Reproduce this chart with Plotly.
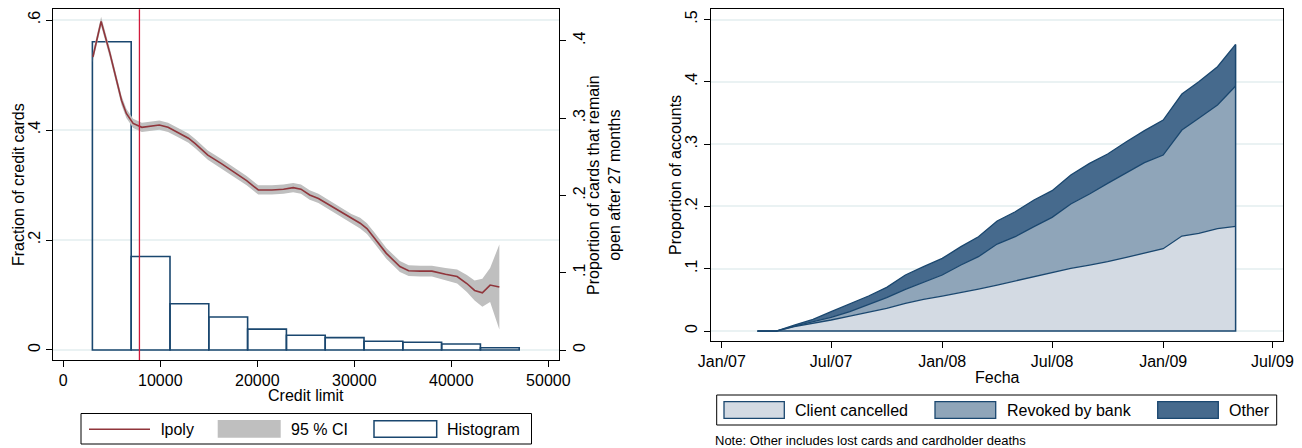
import plotly.graph_objects as go

W, H = 1302, 448

# ---------------- Left panel data ----------------
hist_left_edges = [3000, 7000, 11000, 15000, 19000, 23000, 27000, 31000, 35000, 39000, 43000]
hist_bin_width = 4000
hist_fraction = [0.5606, 0.170, 0.084, 0.060, 0.038, 0.0267, 0.0224, 0.0158, 0.014, 0.011, 0.004]

lpoly_x = [3050, 3900, 4800, 5500, 6000, 6500, 7200, 8100, 8900, 9900,
           10800, 11900, 12900, 13600, 14900, 16300, 17700, 18900, 20100, 21500,
           22700, 23700, 24500, 25400, 26300, 28000, 29700, 30600, 31300, 32100,
           33300, 34700, 35600, 36800, 38000, 39400, 40600, 41600, 42400, 43200,
           44000, 44950]
lpoly_y = [0.379, 0.425, 0.384, 0.349, 0.323, 0.306, 0.293, 0.288, 0.289, 0.291,
           0.288, 0.281, 0.274, 0.267, 0.252, 0.241, 0.229, 0.219, 0.207, 0.207,
           0.208, 0.210, 0.208, 0.2005, 0.196, 0.183, 0.170, 0.164, 0.157, 0.1445,
           0.125, 0.108, 0.1026, 0.102, 0.102, 0.098, 0.095, 0.086, 0.077, 0.074,
           0.084, 0.0815]
ci_half = [0.006, 0.006, 0.006, 0.006, 0.006, 0.006, 0.006, 0.006, 0.006, 0.006,
           0.006, 0.006, 0.006, 0.006, 0.006, 0.006, 0.006, 0.006, 0.006, 0.006,
           0.006, 0.006, 0.006, 0.006, 0.006, 0.006, 0.006, 0.007, 0.007, 0.007,
           0.007, 0.007, 0.007, 0.007, 0.007, 0.008, 0.009, 0.011, 0.013, 0.018,
           0.022, 0.055]
threshold_limit = 7850

left_x_ticks = [0, 10000, 20000, 30000, 40000, 50000]
left_y_ticks = [0, 0.2, 0.4, 0.6]
left_y_labels = ["0", ".2", ".4", ".6"]
right_y_ticks = [0, 0.1, 0.2, 0.3, 0.4]
right_y_labels = ["0", ".1", ".2", ".3", ".4"]

# ---------------- Right panel data ----------------
months = ["2007-03-01", "2007-04-01", "2007-05-01", "2007-06-01", "2007-07-01", "2007-08-01",
          "2007-09-01", "2007-10-01", "2007-11-01", "2007-12-01", "2008-01-01", "2008-02-01",
          "2008-03-01", "2008-04-01", "2008-05-01", "2008-06-01", "2008-07-01", "2008-08-01",
          "2008-09-01", "2008-10-01", "2008-11-01", "2008-12-01", "2009-01-01", "2009-02-01",
          "2009-03-01", "2009-04-01", "2009-05-01"]
client_cancelled = [0, 0, 0.007, 0.0123, 0.0177, 0.0241, 0.030, 0.0364, 0.0445, 0.0509,
                    0.0562, 0.0615, 0.0674, 0.0738, 0.0803, 0.0872, 0.0936, 0.1006, 0.1059,
                    0.1113, 0.1182, 0.1247, 0.1322, 0.1525, 0.1568, 0.1643, 0.168]
revoked_by_bank = [0, 0, 0.001, 0.0027, 0.0043, 0.0069, 0.012, 0.0171, 0.0224, 0.0267,
                   0.0337, 0.0445, 0.0519, 0.0658, 0.0711, 0.0803, 0.0888, 0.1033, 0.114,
                   0.1257, 0.1359, 0.1455, 0.1503, 0.1701, 0.1846, 0.1985, 0.2253]
other = [0, 0, 0.0016, 0.0037, 0.009, 0.0123, 0.0142, 0.0166, 0.023, 0.0257,
         0.0267, 0.0294, 0.0321, 0.037, 0.0401, 0.0428, 0.0429, 0.0465, 0.0492,
         0.0471, 0.0498, 0.0514, 0.0562, 0.0578, 0.0588, 0.0615, 0.0668]

date_ticks = ["2007-01-01", "2007-07-01", "2008-01-01", "2008-07-01", "2009-01-01", "2009-07-01"]
acc_y_ticks = [0, 0.1, 0.2, 0.3, 0.4, 0.5]
acc_y_labels = ["0", ".1", ".2", ".3", ".4", ".5"]

# ---------------- Styles ----------------
FONT = "Liberation Sans, Arial, sans-serif"
NAVY = "#1a476f"
MAROON = "#90353b"
CI_GRAY = "#bfbfbf"
VLINE = "#d11a3c"
GRID = "#eaf2f3"
C_CLIENT = "#d3dae3"
C_REVOKED = "#8fa5b9"
C_OTHER = "#466a8d"
FS = 16


def px(x):
    return x / W


def py(y):
    return 1 - y / H


fig = go.Figure()

# Histogram (left axis)
hist_centers = [e + hist_bin_width / 2 for e in hist_left_edges]
fig.add_trace(go.Bar(
    x=hist_centers, y=hist_fraction, width=hist_bin_width,
    marker=dict(color="rgba(0,0,0,0)", line=dict(color=NAVY, width=1.6)),
    xaxis="x", yaxis="y", showlegend=False, name="Histogram"))

# CI band (right axis of left panel)
ci_lo = [y - h for y, h in zip(lpoly_y, ci_half)]
ci_hi = [y + h for y, h in zip(lpoly_y, ci_half)]
fig.add_trace(go.Scatter(
    x=lpoly_x + lpoly_x[::-1], y=ci_hi + ci_lo[::-1],
    fill="toself", fillcolor=CI_GRAY, line=dict(width=0), mode="lines",
    xaxis="x", yaxis="y2", showlegend=False, name="95 % CI"))
fig.add_trace(go.Scatter(
    x=lpoly_x, y=lpoly_y, mode="lines", line=dict(color=MAROON, width=1.6),
    xaxis="x", yaxis="y2", showlegend=False, name="lpoly"))

# Right panel stacked areas
fig.add_trace(go.Scatter(
    x=months, y=client_cancelled, stackgroup="acc", mode="lines",
    fillcolor=C_CLIENT, line=dict(color=NAVY, width=1.3),
    xaxis="x2", yaxis="y3", showlegend=False, name="Client cancelled"))
fig.add_trace(go.Scatter(
    x=months, y=revoked_by_bank, stackgroup="acc", mode="lines",
    fillcolor=C_REVOKED, line=dict(color=NAVY, width=1.3),
    xaxis="x2", yaxis="y3", showlegend=False, name="Revoked by bank"))
fig.add_trace(go.Scatter(
    x=months, y=other, stackgroup="acc", mode="lines",
    fillcolor=C_OTHER, line=dict(color=NAVY, width=1.3),
    xaxis="x2", yaxis="y3", showlegend=False, name="Other"))
total_last = client_cancelled[-1] + revoked_by_bank[-1] + other[-1]
fig.add_trace(go.Scatter(
    x=[months[0], months[-1], months[-1]], y=[0, 0, total_last],
    mode="lines", line=dict(color=NAVY, width=1.5),
    xaxis="x2", yaxis="y3", showlegend=False, hoverinfo="skip"))

# Threshold vertical line
shapes = [dict(type="line", xref="x", yref="y domain", x0=threshold_limit, x1=threshold_limit,
               y0=0, y1=1, line=dict(color=VLINE, width=1.3), layer="above")]

# ---------------- Manual legends ----------------
# Left legend box
shapes.append(dict(type="rect", xref="paper", yref="paper", x0=px(81), x1=px(531.5),
                   y0=py(444), y1=py(413.5), line=dict(color="black", width=1), fillcolor="white"))
shapes.append(dict(type="line", xref="paper", yref="paper", x0=px(89), x1=px(150),
                   y0=py(429.3), y1=py(429.3), line=dict(color=MAROON, width=1.6)))
shapes.append(dict(type="rect", xref="paper", yref="paper", x0=px(217.7), x1=px(280.7),
                   y0=py(437.7), y1=py(420), line=dict(width=0), fillcolor=CI_GRAY))
shapes.append(dict(type="rect", xref="paper", yref="paper", x0=px(374), x1=px(436.7),
                   y0=py(437.3), y1=py(420.7), line=dict(color=NAVY, width=1.5), fillcolor="white"))
# Right legend box
shapes.append(dict(type="rect", xref="paper", yref="paper", x0=px(716.7), x1=px(1276.7),
                   y0=py(425), y1=py(395), line=dict(color="black", width=1), fillcolor="white"))
for (x0, x1, col) in [(724, 784.3, C_CLIENT), (935, 995.7, C_REVOKED), (1157.7, 1218.3, C_OTHER)]:
    shapes.append(dict(type="rect", xref="paper", yref="paper", x0=px(x0), x1=px(x1),
                       y0=py(418.3), y1=py(401.7), line=dict(color=NAVY, width=1.3), fillcolor=col))

annotations = []


def text(t, x, y, xanchor="left", size=FS, angle=0):
    annotations.append(dict(text=t, x=px(x), y=py(y), xref="paper", yref="paper",
                            xanchor=xanchor, yanchor="middle", showarrow=False,
                            textangle=angle, font=dict(family=FONT, size=size, color="black")))


text("lpoly", 159, 429.5)
text("95 % CI", 289, 429.5)
text("Histogram", 445, 429.5)
text("Client cancelled", 793, 410)
text("Revoked by bank", 1005, 410)
text("Other", 1227, 410)
text("Note: Other includes lost cards and cardholder deaths", 713, 440, size=13)

# Axis titles
text("Credit limit", 306, 395, xanchor="center")
text("Fraction of credit cards", 18, 185, xanchor="center", angle=-90)
text("Proportion of cards that remain<br>open after 27 months", 604, 185, xanchor="center", angle=-90)
text("Fecha", 997, 377, xanchor="center")
text("Proportion of accounts", 675, 175, xanchor="center", angle=-90)

axis_common = dict(showline=True, linecolor="black", linewidth=1.3, ticks="outside",
                   ticklen=6, tickwidth=1.2, tickcolor="black", zeroline=False,
                   automargin=False,
                   tickfont=dict(family=FONT, size=FS, color="black"))

fig.update_layout(
    width=W, height=H,
    margin=dict(l=0, r=0, t=0, b=0, autoexpand=False),
    paper_bgcolor="white", plot_bgcolor="white",
    font=dict(family=FONT, size=FS, color="black"),
    showlegend=False,
    barmode="overlay",
    shapes=shapes,
    annotations=annotations,
    xaxis=dict(domain=[px(53.3), px(559)], anchor="y", range=[-1030, 51100],
               tickvals=left_x_ticks, ticktext=[str(v) for v in left_x_ticks],
               showgrid=False, mirror=True, ticklabelstandoff=0, **axis_common),
    yaxis=dict(domain=[py(360), py(9.3)], anchor="x", range=[-0.0182, 0.6195],
               tickvals=left_y_ticks, ticktext=left_y_labels, tickangle=-90,
               showgrid=True, gridcolor=GRID, gridwidth=2, mirror=True, **axis_common),
    yaxis2=dict(overlaying="y", side="right", anchor="x", range=[-0.01294, 0.4407],
                tickvals=right_y_ticks, ticktext=right_y_labels, tickangle=-90,
                showgrid=False, **axis_common),
    xaxis2=dict(domain=[px(711), px(1282.7)], anchor="y3", type="date",
                range=["2006-12-14", "2009-07-18"],
                tickvals=date_ticks, tickformat="%b/%y",
                showgrid=False, mirror=True, ticklabelstandoff=0, **axis_common),
    yaxis3=dict(domain=[py(341), py(9.3)], anchor="x2", range=[-0.016, 0.5164],
                tickvals=acc_y_ticks, ticktext=acc_y_labels, tickangle=-90,
                showgrid=True, gridcolor=GRID, gridwidth=2, mirror=True, **axis_common),
)

fig.write_html("out.html")
